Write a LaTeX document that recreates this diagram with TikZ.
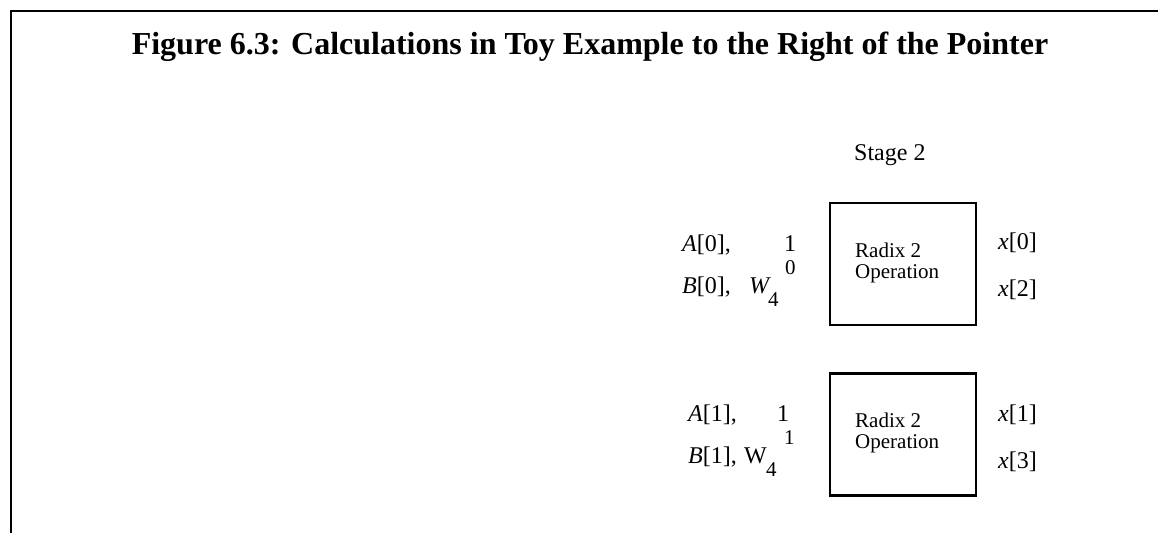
\documentclass[tikz,border=0pt]{standalone}
\usepackage{fontspec}
\setmainfont{Liberation Serif}
\begin{document}
\begin{tikzpicture}[x=1pt,y=-1pt,
  frame/.style={line width=2.6pt},
  opbox/.style={draw,line width=2.4pt,minimum width=146pt,minimum height=122pt,inner sep=0pt},
  lbl/.style={inner sep=0pt,anchor=base west,font=\fontsize{24}{26}\selectfont},
  idx/.style={inner sep=0pt,anchor=base west,font=\fontsize{21}{22}\selectfont},
  boxtxt/.style={inner sep=0pt,anchor=base west,font=\fontsize{21}{21}\selectfont}]
\useasboundingbox (0,0) rectangle (1158,533);
\coordinate (tl) at (11,11);
\coordinate (tr) at (1158,11);
\coordinate (bl) at (11,533);
\draw[frame] (tr) -- (tl) -- (bl);
\node[inner sep=0pt,anchor=base,font=\fontsize{32}{34}\selectfont\bfseries] (title) at (590,54) {Figure 6.3: Calculations in Toy Example to the Right of the Pointer};
\node[lbl] (stage) at (854,160) {Stage 2};
\node[opbox] (box1) at (903,264) {};
\node[opbox] (box2) at (903,434.5) {};
\node[boxtxt] (r1) at (855,257) {Radix 2};
\node[boxtxt] (o1) at (855,278) {Operation};
\node[boxtxt] (r2) at (855,427) {Radix 2};
\node[boxtxt] (o2) at (855,448) {Operation};
\node[lbl] (a0) at (682,251) {\textit{A}[0],};
\node[lbl] (one0) at (784,251) {1};
\node[lbl] (b0) at (682,293) {\textit{B}[0],};
\node[lbl] (w0) at (749,293) {\textit{W}};
\node[idx] (w0s) at (768,306) {4};
\node[idx] (w0p) at (785,274) {0};
\node[lbl] (x0) at (998,249) {\textit{x}[0]};
\node[lbl] (x2) at (998,296) {\textit{x}[2]};
\node[lbl] (a1) at (688,421) {\textit{A}[1],};
\node[lbl] (one1) at (777,421) {1};
\node[lbl] (b1) at (688,463) {\textit{B}[1],};
\node[lbl] (w1) at (744,463) {W};
\node[idx] (w1s) at (766,476) {4};
\node[idx] (w1p) at (784,444) {1};
\node[lbl] (x1) at (998,421) {\textit{x}[1]};
\node[lbl] (x3) at (998,468) {\textit{x}[3]};
\end{tikzpicture}
\end{document}
